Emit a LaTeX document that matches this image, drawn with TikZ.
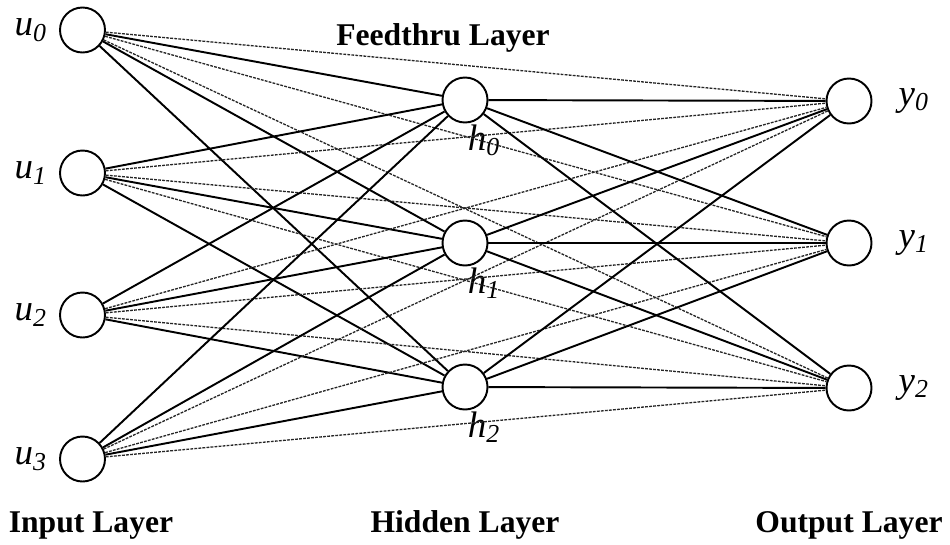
\documentclass[tikz,border=0pt]{standalone}
\usepackage{fontspec}
\setmainfont{Liberation Serif}
\usetikzlibrary{positioning}

\newcommand\unitlbl[2]{\textit{#1}\textsubscript{\textit{#2}}}

\tikzset{
    unit/.style={circle,draw,line width=1.1pt,minimum size=0.9cm,inner sep=0pt},
    every label/.style={font=\fontsize{21}{24}\selectfont},
    weight/.style={line width=1.1pt},
    feedthru/.style={line width=0.75pt,black!85,dash pattern=on 1.6pt off 0.7pt},
    layername/.style={font=\fontsize{18}{21}\selectfont\bfseries}
}

\begin{document}
\begin{tikzpicture}
    \useasboundingbox (0,0) rectangle (19,-10.88);
    % input layer
    \node[unit,label={[label distance=0.12cm]left:\unitlbl{u}{0}}] (u0) at (1.65,-0.6) {};
    \node[unit,label={[label distance=0.12cm]left:\unitlbl{u}{1}}] (u1) at (1.65,-3.46) {};
    \node[unit,label={[label distance=0.12cm]left:\unitlbl{u}{2}}] (u2) at (1.65,-6.3) {};
    \node[unit,label={[label distance=0.12cm]left:\unitlbl{u}{3}}] (u3) at (1.65,-9.18) {};
    % hidden layer
    \node[unit,label={[xshift=0.38cm,label distance=-0.1cm]below:\unitlbl{h}{0}}] (h0) at (9.3,-2.0) {};
    \node[unit,label={[xshift=0.38cm,label distance=-0.1cm]below:\unitlbl{h}{1}}] (h1) at (9.3,-4.86) {};
    \node[unit,label={[xshift=0.38cm,label distance=-0.1cm]below:\unitlbl{h}{2}}] (h2) at (9.3,-7.74) {};
    % output layer
    \node[unit,label={[label distance=0.4cm]right:\unitlbl{y}{0}}] (y0) at (16.98,-2.02) {};
    \node[unit,label={[label distance=0.4cm]right:\unitlbl{y}{1}}] (y1) at (16.98,-4.86) {};
    \node[unit,label={[label distance=0.4cm]right:\unitlbl{y}{2}}] (y2) at (16.98,-7.76) {};

    % connections
    \foreach \i in {0,...,3}
        \foreach \j in {0,1,2} {
            \draw[feedthru] (u\i) -- (y\j);
            \draw[weight] (u\i) -- (h\j);
        }
    \foreach \i in {0,1,2}
        \foreach \j in {0,1,2}
            \draw[weight] (h\i) -- (y\j);

    % layer names
    \node[layername] (feedname) at (8.86,-0.76) {Feedthru Layer};
    \node[layername,anchor=base] (inname) at (1.82,-10.64) {Input Layer};
    \node[layername,anchor=base] (hidname) at (inname.base -| h2) {Hidden Layer};
    \node[layername,anchor=base] (outname) at (inname.base -| y2) {Output Layer};
\end{tikzpicture}
\end{document}
